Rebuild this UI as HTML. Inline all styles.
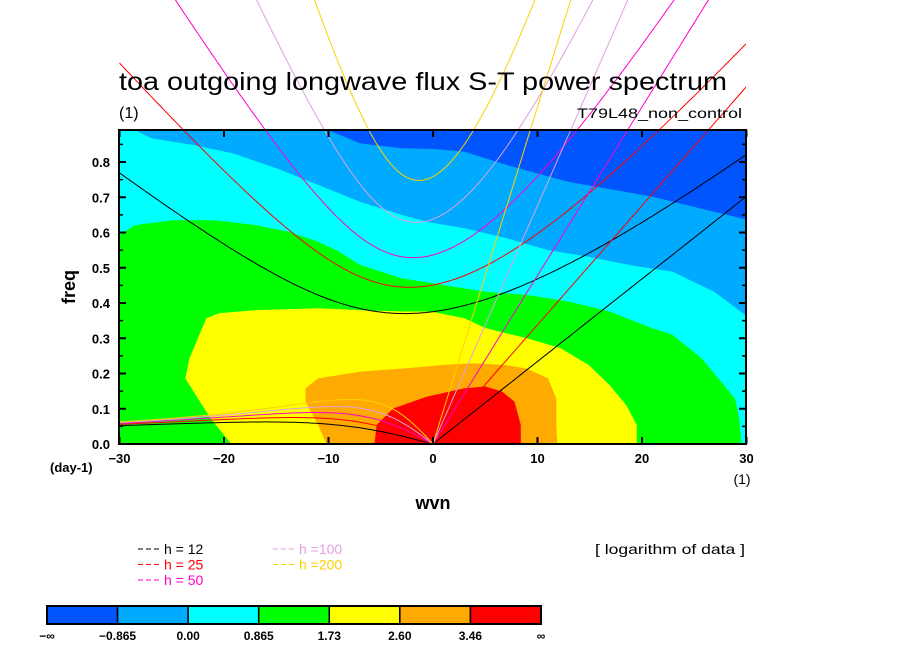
<!DOCTYPE html>
<html><head><meta charset="utf-8">
<style>
body{margin:0;background:#fff;}
svg text{font-family:"Liberation Sans",sans-serif;}
</style></head>
<body>
<svg id="chart" width="904" height="654" viewBox="0 0 904 654" xmlns="http://www.w3.org/2000/svg">
<rect x="0" y="0" width="904" height="654" fill="#fff"/>
<defs><clipPath id="plotclip"><rect x="119" y="130" width="627" height="314"/></clipPath>
<clipPath id="xclip"><rect x="119" y="0" width="627" height="444"/></clipPath></defs>
<g id="fills" clip-path="url(#plotclip)"></g>
<g id="curves" clip-path="url(#xclip)"></g>
<text x="119" y="90" font-size="25" textLength="608" lengthAdjust="spacingAndGlyphs">toa outgoing longwave flux S-T power spectrum</text>
<text x="119" y="118" font-size="16">(1)</text>
<text x="577" y="118" font-size="14" textLength="165" lengthAdjust="spacingAndGlyphs">T79L48_non_control</text>
<rect x="119" y="130" width="627" height="314" fill="none" stroke="#000" stroke-width="2"/>
<g id="axes"></g>
<text x="75" y="287" font-size="18" font-weight="bold" transform="rotate(-90 75 287)" text-anchor="middle">freq</text>
<text x="433" y="509" font-size="18" font-weight="bold" text-anchor="middle">wvn</text>
<text x="50" y="472" font-size="13" font-weight="bold">(day-1)</text>
<text x="742" y="484" font-size="14" text-anchor="middle">(1)</text>
<g id="legend"></g>
<text x="595" y="554" font-size="14" textLength="150" lengthAdjust="spacingAndGlyphs">[ logarithm of data ]</text>
<g id="colorbar"></g>
</svg>
<script>
const levelColors=["#0055ff","#00aaff","#00ffff","#00ff00","#ffff00","#ffaa00","#ff0000"];
const levelLabels=["−∞","−0.865","0.00","0.865","1.73","2.60","3.46","∞"];
const hValues=[12,25,50,100,200];
const hColors=["#000000","#ff0000","#ff00cc","#e0a0e0","#ffd000"];
const yTicks=[0.0,0.1,0.2,0.3,0.4,0.5,0.6,0.7,0.8];
const xTicks=[-30,-20,-10,0,10,20,30];
// contour boundaries [wvn, freq]
const blueDark=[[-10,0.89],[-7,0.853],[-3,0.839],[0.2,0.837],[3,0.829],[7,0.792],[12.9,0.744],[20.9,0.702],[26.9,0.659],[30.3,0.635]];
const blueLight=[[-28.5,0.89],[-26.9,0.867],[-22.9,0.848],[-19.1,0.824],[-15,0.782],[-11,0.735],[-7,0.687],[-3,0.65],[-0.6,0.63],[3,0.612],[7,0.584],[11,0.55],[14.9,0.531],[18.9,0.507],[22.9,0.489],[26.9,0.432],[30.3,0.357]];
const greenEdge=[[-30,0.593],[-28.5,0.621],[-24.9,0.635],[-20.9,0.635],[-17,0.621],[-13.8,0.602],[-11,0.574],[-9,0.546],[-7,0.508],[-3,0.47],[1,0.451],[5,0.432],[9,0.423],[13,0.404],[16.9,0.376],[20.9,0.329],[22.9,0.31],[25.7,0.243],[27.3,0.186],[28.9,0.129],[29.3,0.072],[29.5,0]];
const yellowEdge=[[-19.3,0],[-21.3,0.073],[-22.9,0.148],[-23.7,0.186],[-23.3,0.243],[-22.5,0.3],[-21.7,0.356],[-20.5,0.371],[-17,0.38],[-11,0.385],[-7,0.38],[-3,0.376],[-0.2,0.376],[3,0.357],[5,0.329],[9,0.3],[12.2,0.272],[14.9,0.224],[16.9,0.167],[18.5,0.11],[19.5,0.054],[19.5,0]];
const orangeEdge=[[-10.2,0],[-11,0.054],[-12.2,0.12],[-12.2,0.158],[-11,0.186],[-7,0.205],[-3,0.214],[1,0.224],[3.8,0.229],[7,0.224],[9,0.214],[11,0.186],[11.8,0.129],[11.8,0.054],[11.9,0]];
const redEdge=[[-5.6,0],[-5.4,0.054],[-3.8,0.101],[-0.6,0.134],[3,0.158],[5,0.163],[6.6,0.149],[7.8,0.12],[8.4,0.054],[8.4,0]];

const NS="http://www.w3.org/2000/svg";
const X=s=>433+s*10.45;
const Y=f=>444-f*352.5;
function mk(tag,attrs,parent){const e=document.createElementNS(NS,tag);for(const k in attrs)e.setAttribute(k,attrs[k]);parent.appendChild(e);return e;}
const fills=document.getElementById('fills');
function pts(a){return a.map(p=>X(p[0]).toFixed(1)+","+Y(p[1]).toFixed(1)).join(" ");}
let r=mk('rect',{x:119,y:130,width:627,height:314,fill:levelColors[0]},fills);

let p;
p=mk('polygon',{points:"119,130 "+pts(blueDark)+" 746,444 119,444",fill:levelColors[1]},fills);

p=mk('polygon',{points:"119,130 "+pts(blueLight)+" 746,444 119,444",fill:levelColors[2]},fills);

p=mk('polygon',{points:"119,444 "+pts(greenEdge),fill:levelColors[3]},fills);

p=mk('polygon',{points:pts(yellowEdge),fill:levelColors[4]},fills);

p=mk('polygon',{points:pts(orangeEdge),fill:levelColors[5]},fills);

p=mk('polygon',{points:pts(redEdge),fill:levelColors[6]},fills);


// dispersion curves
const beta=2.29e-11,a=6.371e6,g=9.81,toCpd=86400/(2*Math.PI);
const curves=document.getElementById('curves');
hValues.forEach((h,i)=>{
  const c=Math.sqrt(g*h);
  let kel=[],ig=[],er=[];
  for(let s=0;s<=30.01;s+=0.5){kel.push([s,c*(s/a)*toCpd]);}
  for(let s=-30;s<=30.01;s+=0.25){const k=s/a;let w=Math.sqrt(3*beta*c);for(let it=0;it<30;it++){w=Math.sqrt(Math.max(3*beta*c+c*c*k*k+beta*c*c*k/w,1e-14));}ig.push([s,w*toCpd]);}
  for(let s=-30;s<=0.01;s+=0.25){const k=s/a;er.push([s,-beta*k/(k*k+3*beta/c)*toCpd]);}
  [[kel,'kelvin'],[ig,'inertia-gravity'],[er,'rossby']].forEach(([arr,nm])=>{
    const l=mk('polyline',{points:arr.map(q=>X(q[0]).toFixed(1)+","+Y(q[1]).toFixed(1)).join(" "),fill:"none",stroke:hColors[i],"stroke-width":1},curves);
    
    
  });
});

// axes
const axes=document.getElementById('axes');
yTicks.forEach(v=>{
  const t=mk('text',{x:110,y:Y(v)+5,"font-size":13,"font-weight":"bold","text-anchor":"end"},axes);t.textContent=v.toFixed(1);
  
  mk('line',{x1:119,x2:126,y1:Y(v),y2:Y(v),stroke:"#000","stroke-width":2},axes);
  mk('line',{x1:739,x2:746,y1:Y(v),y2:Y(v),stroke:"#000","stroke-width":2},axes);
  if(v<0.85){mk('line',{x1:119,x2:123,y1:Y(v+0.05),y2:Y(v+0.05),stroke:"#000","stroke-width":1.5},axes);
  mk('line',{x1:742,x2:746,y1:Y(v+0.05),y2:Y(v+0.05),stroke:"#000","stroke-width":1.5},axes);}
});
xTicks.forEach(v=>{
  const t=mk('text',{x:X(v),y:463,"font-size":13,"font-weight":"bold","text-anchor":"middle"},axes);t.textContent=v<0?"−"+(-v):String(v);
  
  mk('line',{x1:X(v),x2:X(v),y1:437,y2:444,stroke:"#000","stroke-width":2},axes);
  mk('line',{x1:X(v),x2:X(v),y1:130,y2:137,stroke:"#000","stroke-width":2},axes);
});

// legend
const legend=document.getElementById('legend');
hValues.forEach((h,i)=>{
  const col=i<3?0:1,row=i<3?i:i-3;
  const x0=col?273:138,y0=554+row*15.5;
  const d=mk('line',{x1:x0,x2:x0+24,y1:y0-5,y2:y0-5,stroke:hColors[i],"stroke-dasharray":"5,3"},legend);
  
  const t=mk('text',{x:x0+26,y:y0,"font-size":14,fill:hColors[i]},legend);
  t.textContent=h<100?"h = "+h:"h ="+h;
  
});

// colorbar
const cb=document.getElementById('colorbar');
const bw=(541-47)/7;
levelColors.forEach((c,i)=>{
  const b=mk('rect',{x:47+i*bw,y:606,width:bw,height:18,fill:c,stroke:"#000","stroke-width":1.5},cb);
  
});
mk('rect',{x:47,y:606,width:494,height:18,fill:"none",stroke:"#000","stroke-width":2},cb);
levelLabels.forEach((l,i)=>{
  const t=mk('text',{x:47+i*bw,y:640,"font-size":12,"font-weight":"bold","text-anchor":"middle"},cb);
  t.textContent=l;
  
});
</script>
</body></html>
